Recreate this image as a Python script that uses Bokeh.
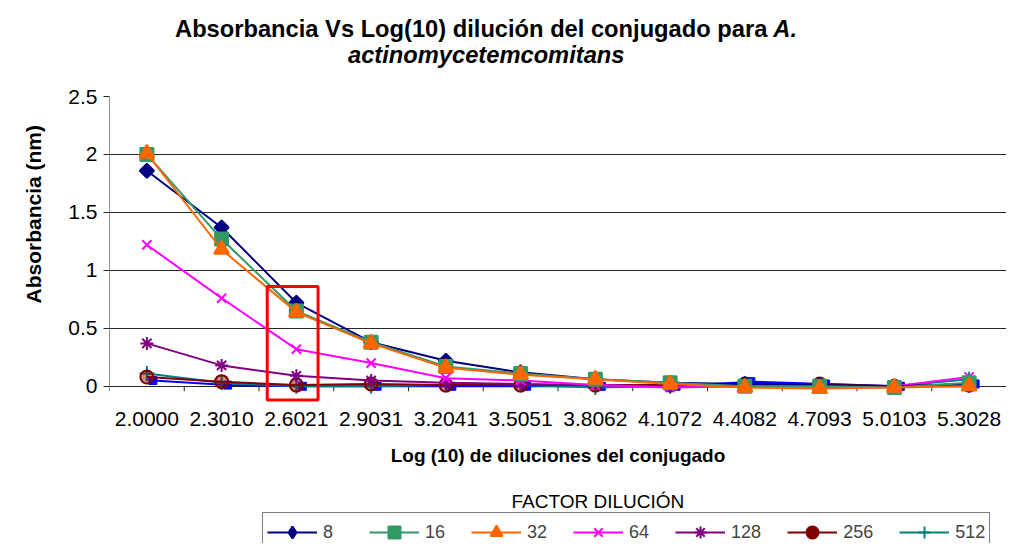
import math
from bokeh.plotting import figure
from bokeh.layouts import column
from bokeh.models import (Range1d, FixedTicker, Label, Legend, LegendItem,
                          ColumnDataSource, Title)
from bokeh.transform import dodge
from bokeh.embed import file_html
from bokeh.resources import INLINE

# ---------------- data ----------------
categories = ["2.0000", "2.3010", "2.6021", "2.9031", "3.2041", "3.5051",
              "3.8062", "4.1072", "4.4082", "4.7093", "5.0103", "5.3028"]
s8   = [1.86, 1.37, 0.72, 0.38, 0.22, 0.12, 0.06, 0.03, 0.02, 0.01, 0.00, 0.02]
s16  = [2.00, 1.27, 0.65, 0.38, 0.17, 0.11, 0.06, 0.03, 0.00, 0.00, -0.01, 0.03]
s32  = [2.01, 1.18, 0.64, 0.37, 0.16, 0.10, 0.06, 0.02, -0.01, -0.02, -0.01, 0.00]
s64  = [1.22, 0.76, 0.32, 0.20, 0.07, 0.05, 0.01, -0.01, 0.00, 0.00, 0.00, 0.08]
s128 = [0.37, 0.18, 0.09, 0.05, 0.03, 0.02, 0.01, 0.00, 0.00, 0.00, 0.00, 0.00]
s256 = [0.08, 0.04, 0.01, 0.02, 0.01, 0.01, 0.01, 0.01, 0.02, 0.02, 0.00, 0.01]
s512 = [0.11, 0.03, 0.00, 0.00, 0.01, 0.01, -0.01, 0.00, 0.01, 0.00, 0.00, 0.06]
s1024 = [0.05, 0.01, 0.00, 0.00, 0.00, 0.00, 0.00, 0.00, 0.04, 0.02, 0.00, 0.02]
series_names = ["8", "16", "32", "64", "128", "256", "512"]
y_ticks = [0, 0.5, 1, 1.5, 2, 2.5]
y_tick_labels = ["0", "0.5", "1", "1.5", "2", "2.5"]
highlight_category = "2.6021"
highlight_top = 0.86

title_line1 = "Absorbancia Vs Log(10) dilución del conjugado para"
title_line1_italic = "A."
title_line2 = "actinomycetemcomitans"
y_title = "Absorbancia (nm)"
x_title = "Log (10) de diluciones del conjugado"
legend_title = "FACTOR DILUCIÓN"

FONT = "Liberation Sans"
AX = "#262626"

# ---------------- layout (page pixel plan) ----------------
W, H = 1006, 543
TOP_H = 75            # title strip height
BOT_H = 53            # legend strip height
MAIN_H = H - TOP_H - BOT_H
FL = 106              # frame left (all three strips share it)
FT_PAGE = 96          # page y of 2.5
Y0, Y1 = -0.14, 2.5
PX = 116.0            # px per absorbance unit
FH = round((Y1 - Y0) * PX)
top_border = FT_PAGE - TOP_H

def strip(height, y_top):
    f = figure(width=W, height=height, output_backend="svg", toolbar_location=None,
               x_range=Range1d(FL, W), y_range=Range1d(y_top + height, y_top),
               min_border_left=FL, min_border_right=0, min_border_top=0,
               min_border_bottom=0, outline_line_color=None)
    f.axis.visible = False
    f.grid.visible = False
    return f

# ---- title strip (data coords == page pixels) ----
t = strip(TOP_H, 0)
for txt, x, y, style, align in [
        (title_line1, 766, 28, "bold", "right"),
        (title_line1_italic, 772, 28, "bold italic", "left"),
        (title_line2, 484, 54, "bold italic", "center")]:
    t.add_layout(Label(x=x, y=y, text=txt, text_font=FONT, text_font_size="23.7px",
                       text_font_style=style, text_align=align,
                       text_baseline="middle", text_color="black"))

# ---- main plot ----
p = figure(width=W, height=MAIN_H, output_backend="svg", toolbar_location=None,
           x_range=Range1d(0, len(categories)), y_range=Range1d(Y0, Y1),
           min_border_left=FL, min_border_right=0,
           min_border_top=top_border, min_border_bottom=MAIN_H - top_border - FH)
p.outline_line_color = None

xc = [i + 0.5 for i in range(len(categories))]

p.xgrid.visible = False
p.ygrid.ticker = FixedTicker(ticks=y_ticks)
p.ygrid.grid_line_color = AX
p.ygrid.grid_line_width = 1

p.yaxis.ticker = FixedTicker(ticks=y_ticks)
p.yaxis.major_label_overrides = {tk: l for tk, l in zip(y_ticks, y_tick_labels)}
p.yaxis.axis_line_color = None
p.yaxis.major_tick_out = 6
p.yaxis.major_tick_in = 0
p.yaxis.minor_tick_line_color = None
p.yaxis.major_tick_line_color = AX
p.yaxis.major_label_text_font = FONT
p.yaxis.major_label_text_font_size = "21px"
p.yaxis.major_label_text_color = "black"
p.yaxis.major_label_standoff = 6

p.xaxis.ticker = FixedTicker(ticks=xc)
p.xaxis.major_label_overrides = {x: c for x, c in zip(xc, categories)}
p.xaxis.axis_line_color = None
p.xaxis.major_tick_line_color = None
p.xaxis.minor_tick_line_color = None
p.xaxis.major_label_text_font = FONT
p.xaxis.major_label_text_font_size = "21px"
p.xaxis.major_label_text_color = "black"
p.xaxis.major_label_standoff = 3
p.xaxis.axis_label = x_title
p.xaxis.axis_label_text_font = FONT
p.xaxis.axis_label_text_font_size = "19px"
p.xaxis.axis_label_text_font_style = "bold"
p.xaxis.axis_label_text_color = "black"
p.xaxis.axis_label_standoff = 16

# y-axis title in the left side panel
p.add_layout(Title(text=y_title, align="left", offset=99, vertical_align="middle",
                   text_font=FONT, text_font_size="21px", text_font_style="bold",
                   text_color="black", standoff=40), "left")

# axis lines at y=0 / x=0 and category-boundary ticks
bounds = list(range(len(categories) + 1))
p.segment(x0=[0], y0=[0], x1=[0], y1=[y_ticks[-1]], line_color=AX, line_width=1)
p.segment(x0=bounds, y0=[0] * len(bounds), x1=bounds, y1=[-5 / PX] * len(bounds),
          line_color=AX, line_width=1)

src = ColumnDataSource(dict(x=xc, s8=s8, s16=s16, s32=s32, s64=s64, s128=s128,
                            s256=s256, s512=s512, s1024=s1024))

p.line(x=dodge("x", 0.08), y="s1024", source=src, line_color="#0000FF", line_width=2)
p.scatter(x=dodge("x", 0.08), y="s1024", source=src, marker="square", size=8,
          fill_color="#0000FF", line_color="#0000FF")

# column, colour, plot marker, size, angle, fill alpha, legend marker
styles = [
    ("s8",   "#000080", "square",   10, math.pi / 4, 1.0,  "diamond"),
    ("s16",  "#339966", "square",   13, 0.0,         1.0,  "square"),
    ("s32",  "#FF6600", "triangle", 15, 0.0,         1.0,  "triangle"),
    ("s64",  "#FF00FF", "x",        13, 0.0,         1.0,  "x"),
    ("s128", "#800080", "asterisk", 13, 0.0,         1.0,  "asterisk"),
    ("s256", "#800000", "circle",   13, 0.0,         0.45, "circle"),
    ("s512", "#008080", "cross",    15, 0.0,         1.0,  "cross"),
]
for idx in [6, 5, 4, 3, 0, 1, 2]:
    col, color, marker, size, ang, falpha, _ = styles[idx]
    p.line(x="x", y=col, source=src, line_color=color, line_width=2)
    p.scatter(x="x", y=col, source=src, marker=marker, size=size, angle=ang,
              fill_color=color, fill_alpha=falpha, line_color=color, line_width=2)

hi = categories.index(highlight_category)
p.quad(left=[hi + 0.11], right=[hi + 0.79], bottom=[-0.118], top=[highlight_top],
       fill_color=None, line_color="#FF0000", line_width=3)

# ---- legend strip (series renderers here fall outside its visible ranges) ----
b = strip(BOT_H, TOP_H + MAIN_H)
b.add_layout(Label(x=596, y=TOP_H + MAIN_H + 11, text=legend_title, text_font=FONT,
                   text_font_size="19px", text_align="center", text_baseline="middle",
                   text_color="black"))
items = []
for (col, color, marker, size, ang, falpha, lmarker), name in zip(styles, series_names):
    lr = b.line(x="x", y=col, source=src, line_color=color, line_width=2)
    sr = b.scatter(x="x", y=col, source=src, marker=lmarker, size=size,
                   fill_color=color, fill_alpha=1.0, line_color=color, line_width=2)
    items.append(LegendItem(label=name, renderers=[lr, sr]))
legend = Legend(items=items, orientation="horizontal", location=(259 - FL, -9),
                label_text_font=FONT, label_text_font_size="18px",
                glyph_width=50, glyph_height=30, label_standoff=6, spacing=26,
                padding=4, margin=0, border_line_color="black", border_line_width=1)
b.add_layout(legend, "center")

layout = column(t, p, b, spacing=0)
open("out.html", "w").write(file_html(layout, INLINE))
